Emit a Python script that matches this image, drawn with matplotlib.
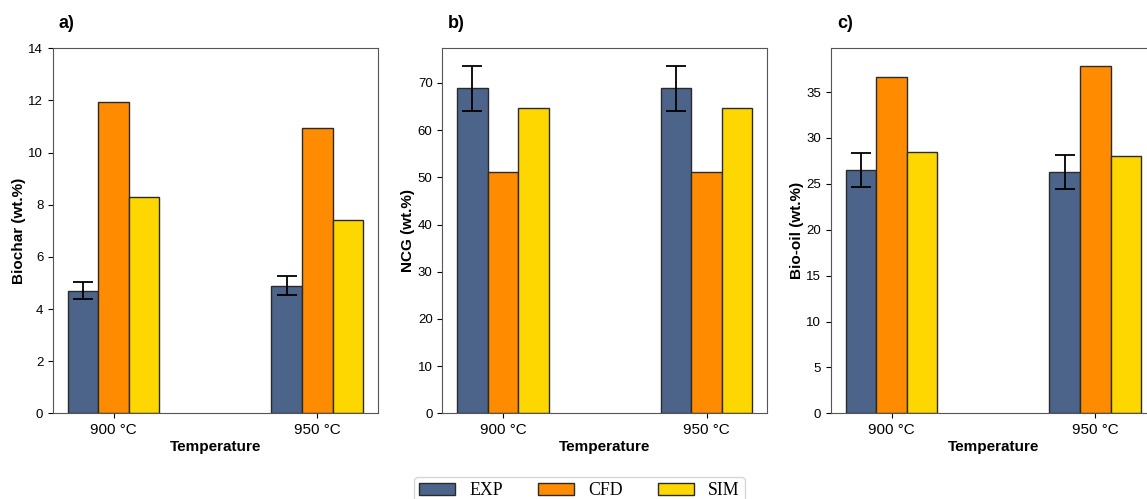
import matplotlib
matplotlib.use("Agg")
import matplotlib.pyplot as plt
import numpy as np

temps = ["900 °C", "950 °C"]
series = ["EXP", "CFD", "SIM"]
colors = ["#4c6489", "#ff8c00", "#ffd700"]

biochar_exp = [4.7, 4.9]
biochar_exp_err = [0.33, 0.35]
biochar_cfd = [11.93, 10.93]
biochar_sim = [8.3, 7.4]

ncg_exp = [68.85, 68.85]
ncg_exp_err = [4.8, 4.8]
ncg_cfd = [51.17, 51.17]
ncg_sim = [64.67, 64.67]

biooil_exp = [26.55, 26.3]
biooil_exp_err = [1.85, 1.85]
biooil_cfd = [36.67, 37.87]
biooil_sim = [28.48, 28.08]

panels = [
    ("a)", "Biochar (wt.%)", biochar_exp, biochar_exp_err, biochar_cfd, biochar_sim, (0, 14)),
    ("b)", "NCG (wt.%)", ncg_exp, ncg_exp_err, ncg_cfd, ncg_sim, None),
    ("c)", "Bio-oil (wt.%)", biooil_exp, biooil_exp_err, biooil_cfd, biooil_sim, None),
]

plt.rcParams["font.family"] = ["Liberation Sans", "DejaVu Sans"]

fig = plt.figure(figsize=(11.47, 4.99), dpi=100)
lefts = [53 / 1147, 442.3 / 1147, 831 / 1147]
w = 0.15
x = np.arange(len(temps))

for left, (tag, ylab, exp, err, cfd, sim, ylim) in zip(lefts, panels):
    ax = fig.add_axes([left, 0.1717, 0.2833, 0.7315])
    ax.bar(x - w, exp, w, yerr=err, capsize=7, color=colors[0], edgecolor="#2a2a2a",
           linewidth=1, label=series[0], error_kw=dict(elinewidth=1.3, capthick=1.3))
    ax.bar(x, cfd, w, color=colors[1], edgecolor="#2a2a2a", linewidth=1, label=series[1])
    ax.bar(x + w, sim, w, color=colors[2], edgecolor="#2a2a2a", linewidth=1, label=series[2])
    if ylim:
        ax.set_ylim(*ylim)
    ax.set_xticks(x)
    ax.set_xticklabels(temps, fontsize=11)
    ax.tick_params(axis="y", labelsize=9.5)
    ax.set_xlabel("Temperature", fontsize=11, fontweight="bold", labelpad=2)
    ax.set_ylabel(ylab, fontsize=11, fontweight="bold", labelpad=2)
    for s in ax.spines.values():
        s.set_color("#555555")
    ax.text(0.018, 1.068, tag, transform=ax.transAxes, fontsize=13, fontweight="bold",
            va="center")

handles, labels = ax.get_legend_handles_labels()
fig.legend(handles, labels, loc="upper left", bbox_to_anchor=(0.361, 0.044), ncol=3,
           prop={"family": "Liberation Serif", "size": 12.8}, borderaxespad=0,
           borderpad=0.3)

fig.savefig("out.png", dpi=100)
